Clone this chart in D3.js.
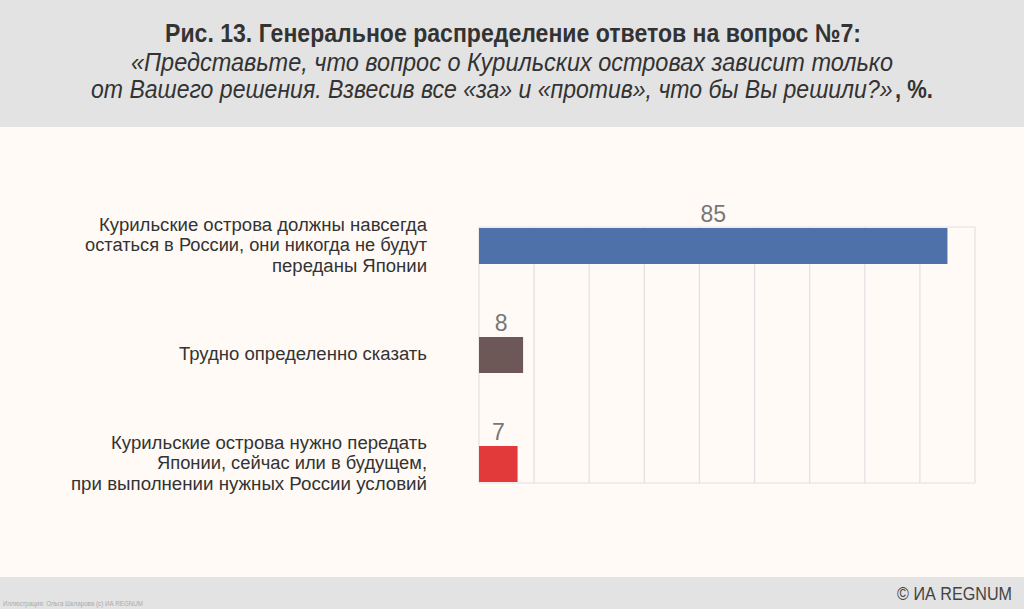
<!DOCTYPE html>
<html><head><meta charset="utf-8">
<script src="https://cdn.jsdelivr.net/npm/d3@7/dist/d3.min.js"></script>
<style>html,body{margin:0;padding:0;background:#fffaf6}svg{display:block}</style></head>
<body><svg id="c" width="1024" height="609"></svg>
<script>
const categories=["a","b","c"];
const values=[85,8,7];
const colors=["#4f71aa","#6d5757","#e23a3a"];
const categoryLines=[
 ["Курильские острова должны навсегда","остаться в России, они никогда не будут","переданы Японии"],
 ["Трудно определенно сказать"],
 ["Курильские острова нужно передать","Японии, сейчас или в будущем,","при выполнении нужных России условий"]];
const ticks=[0,10,20,30,40,50,60,70,80,90];
const svg=d3.select("#c");
const x=d3.scaleLinear().domain([0,90]).range([479,975]);
const y=d3.scalePoint().domain(categories).range([246,464]);
const barH=36;
const font="'Liberation Sans Narrow','Liberation Sans',sans-serif";
svg.append("rect").attr("width",1024).attr("height",609).attr("fill","#fffaf6");
svg.append("rect").attr("width",1024).attr("height",127).attr("fill","#e3e3e3");
svg.append("rect").attr("y",577).attr("width",1024).attr("height",32).attr("fill","#e3e3e3");
function fit(sel,w){sel.attr("textLength",w).attr("lengthAdjust","spacingAndGlyphs");return sel;}
function squeeze(sel,px,py,w){const n=sel.node().getComputedTextLength();sel.attr("transform",`translate(${px},${py}) scale(${w/n},1)`);return sel;}
const g=svg.append("g").attr("font-family",font);
const t1=g.append("text").attr("x",513).attr("y",42).attr("text-anchor","middle").attr("font-size",26).attr("font-weight",700).attr("fill","#333").text("Рис. 13. Генеральное распределение ответов на вопрос №7:");
fit(t1,696);
const t2=g.append("text").attr("x",512).attr("y",71).attr("text-anchor","middle").attr("font-size",25).attr("font-style","italic").attr("fill","#333").text("«Представьте, что вопрос о Курильских островах зависит только");
fit(t2,762);
const t3=g.append("text").attr("font-size",25).attr("font-style","italic").attr("fill","#333").text("от Вашего решения. Взвесив все «за» и «против», что бы Вы решили?»");
squeeze(t3,91,98,802);
const t3b=g.append("text").attr("font-size",25).attr("font-weight",700).attr("fill","#333").text(", %.");
squeeze(t3b,895,98,38);
g.selectAll("line.grid").data(ticks).join("line").attr("class","grid")
 .attr("x1",d=>x(d)).attr("x2",d=>x(d)).attr("y1",227).attr("y2",483).attr("stroke","#e2dfe2").attr("stroke-width",1.2);
g.append("line").attr("x1",x(0)).attr("x2",x(90)).attr("y1",483).attr("y2",483).attr("stroke","#e2dfe2").attr("stroke-width",1.2);
g.append("line").attr("x1",x(0)).attr("x2",x(90)).attr("y1",227).attr("y2",227).attr("stroke","#e2dfe2").attr("stroke-width",1.2);
g.selectAll("rect.bar").data(categories).join("rect").attr("class","bar")
 .attr("x",x(0)).attr("y",d=>y(d)-barH/2).attr("height",barH)
 .attr("width",(d,i)=>x(values[i])-x(0)).attr("fill",(d,i)=>colors[i]);
g.selectAll("text.val").data(categories).join("text").attr("class","val")
 .attr("x",(d,i)=>x(values[i]/2)).attr("y",d=>y(d)-24.5).attr("text-anchor","middle")
 .attr("font-size",23).attr("fill","#777").attr("font-family","'Liberation Sans',sans-serif").text((d,i)=>values[i]);
const lh=20.5;
const widths=[[328,342,155],[248],[316,270,356]];
categories.forEach((c,i)=>{
 const L=categoryLines[i];
 L.forEach((s,k)=>{
  const t=g.append("text").attr("x",427).attr("y",y(c)+5+(k-(L.length-1)/2)*lh).attr("text-anchor","end")
   .attr("font-size",18).attr("fill","#333").text(s);
  fit(t,widths[i][k]);
 });
});
const f=g.append("text").attr("text-anchor","end").attr("font-size",18.5).attr("fill","#444").text("© ИА REGNUM");
squeeze(f,1012,600,115);
const cr=g.append("text").attr("x",3).attr("y",606).attr("font-size",7).attr("fill","#aaa").text("Иллюстрация: Ольга Шкларова (c) ИА REGNUM");
fit(cr,140);
</script></body></html>
